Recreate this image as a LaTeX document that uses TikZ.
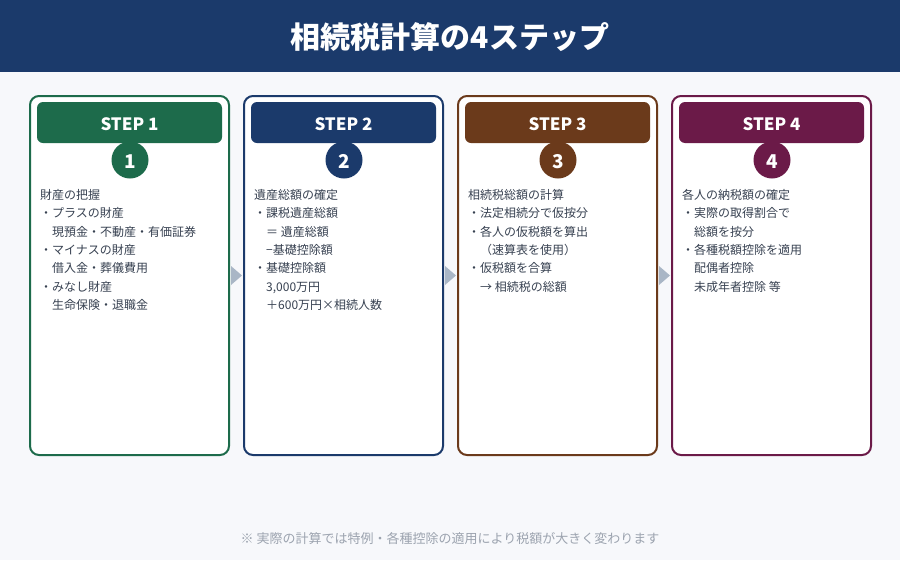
\documentclass[tikz,border=0pt]{standalone}
\usepackage{fontspec}
\setmainfont{Noto Sans CJK JP}
\usetikzlibrary{calc}
\definecolor{navy}{HTML}{1B3A6B}
\definecolor{cgreen}{HTML}{1D6B4B}
\definecolor{cbrown}{HTML}{6B3A1B}
\definecolor{cplum}{HTML}{6B1A48}
\definecolor{bg}{HTML}{F7F8FB}
\definecolor{bodycol}{HTML}{374151}
\definecolor{footcol}{HTML}{9CA3AF}
\definecolor{arrowcol}{HTML}{A9B6C6}
\begin{document}
\begin{tikzpicture}[x=1pt,y=-1pt,
  card/.style={draw=#1, line width=2pt, fill=white, rounded corners=9pt,
    minimum width=199pt, minimum height=359pt, inner sep=0pt},
  head/.style={fill=#1, rounded corners=6pt, minimum width=185pt,
    minimum height=41pt, inner sep=0pt},
  headtext/.style={inner sep=0pt, text=white,
    font=\fontsize{17}{20}\selectfont\bfseries},
  num/.style={circle, fill=#1, minimum size=37pt, inner sep=0pt},
  numtext/.style={inner sep=0pt, text=white,
    font=\fontsize{19}{22}\selectfont\bfseries},
  bodytext/.style={anchor=base west, inner sep=0pt, text=bodycol,
    font=\fontsize{12}{14}\selectfont},
  tri/.style={fill=arrowcol}
]
\useasboundingbox (0,0) rectangle (900,560);
\fill[bg] (0,0) rectangle (900,560);
\fill[navy] (0,0) rectangle (900,72);
\node[text=white, font=\fontsize{30}{34}\selectfont\bfseries] (title) at (450,37.5) {相続税計算の4ステップ};

% cards
\node[card=cgreen] (card1) at (129.5,275.5) {};
\node[card=navy]   (card2) at (343.5,275.5) {};
\node[card=cbrown] (card3) at (557.5,275.5) {};
\node[card=cplum]  (card4) at (771.5,275.5) {};

\node[head=cgreen] (h1) at (129.5,122.5) {};
\node[head=navy]   (h2) at (343.5,122.5) {};
\node[head=cbrown] (h3) at (557.5,122.5) {};
\node[head=cplum]  (h4) at (771.5,122.5) {};
\node[headtext] (ht1) at (129.5,124.5) {STEP 1};
\node[headtext] (ht2) at (343.5,124.5) {STEP 2};
\node[headtext] (ht3) at (557.5,124.5) {STEP 3};
\node[headtext] (ht4) at (771.5,124.5) {STEP 4};

\node[num=cgreen] (n1) at (130,160) {};
\node[num=navy]   (n2) at (344,160) {};
\node[num=cbrown] (n3) at (558,160) {};
\node[num=cplum]  (n4) at (772,160) {};
\node[numtext] (nt1) at (130,161.5) {1};
\node[numtext] (nt2) at (344,161.5) {2};
\node[numtext] (nt3) at (558,161.5) {3};
\node[numtext] (nt4) at (772,161.5) {4};

% arrows
\foreach \a/\b in {card1/card2,card2/card3,card3/card4}{
  \coordinate (m) at ($(\a.east)!0.5!(\b.west)$);
  \fill[tri] ($(m)+(-5.5,-9.5)$) -- ($(m)+(5.5,0)$) -- ($(m)+(-5.5,9.5)$) -- cycle;
}

% card 1 text
\node[bodytext] (a1) at (40,199.6) {財産の把握};
\node[bodytext] (a2) at (40,217.9) {・プラスの財産};
\node[bodytext] (a3) at (52,236.3) {現預金・不動産・有価証券};
\node[bodytext] (a4) at (40,254.6) {・マイナスの財産};
\node[bodytext] (a5) at (52,272.9) {借入金・葬儀費用};
\node[bodytext] (a6) at (40,291.3) {・みなし財産};
\node[bodytext] (a7) at (52,309.6) {生命保険・退職金};

% card 2 text
\node[bodytext] (b1) at (254,199.6) {遺産総額の確定};
\node[bodytext] (b2) at (254,217.9) {・課税遺産総額};
\node[bodytext] (b3) at (266,236.3) {＝ 遺産総額};
\node[bodytext] (b4) at (266,254.6) {−基礎控除額};
\node[bodytext] (b5) at (254,272.9) {・基礎控除額};
\node[bodytext] (b6) at (266,291.3) {3,000万円};
\node[bodytext] (b7) at (266,309.6) {＋600万円×相続人数};

% card 3 text
\node[bodytext] (c1) at (468,199.6) {相続税総額の計算};
\node[bodytext] (c2) at (468,217.9) {・法定相続分で仮按分};
\node[bodytext] (c3) at (468,236.3) {・各人の仮税額を算出};
\node[bodytext] (c4) at (480,254.6) {（速算表を使用）};
\node[bodytext] (c5) at (468,272.9) {・仮税額を合算};
\node[bodytext] (c6) at (480,291.3) {→ 相続税の総額};

% card 4 text
\node[bodytext] (d1) at (682,199.6) {各人の納税額の確定};
\node[bodytext] (d2) at (682,217.9) {・実際の取得割合で};
\node[bodytext] (d3) at (694,236.3) {総額を按分};
\node[bodytext] (d4) at (682,254.6) {・各種税額控除を適用};
\node[bodytext] (d5) at (694,272.9) {配偶者控除};
\node[bodytext] (d6) at (694,291.3) {未成年者控除 等};

\node[text=footcol, font=\fontsize{13}{15}\selectfont] (foot) at (450,539) {※ 実際の計算では特例・各種控除の適用により税額が大きく変わります};
\end{tikzpicture}
\end{document}
